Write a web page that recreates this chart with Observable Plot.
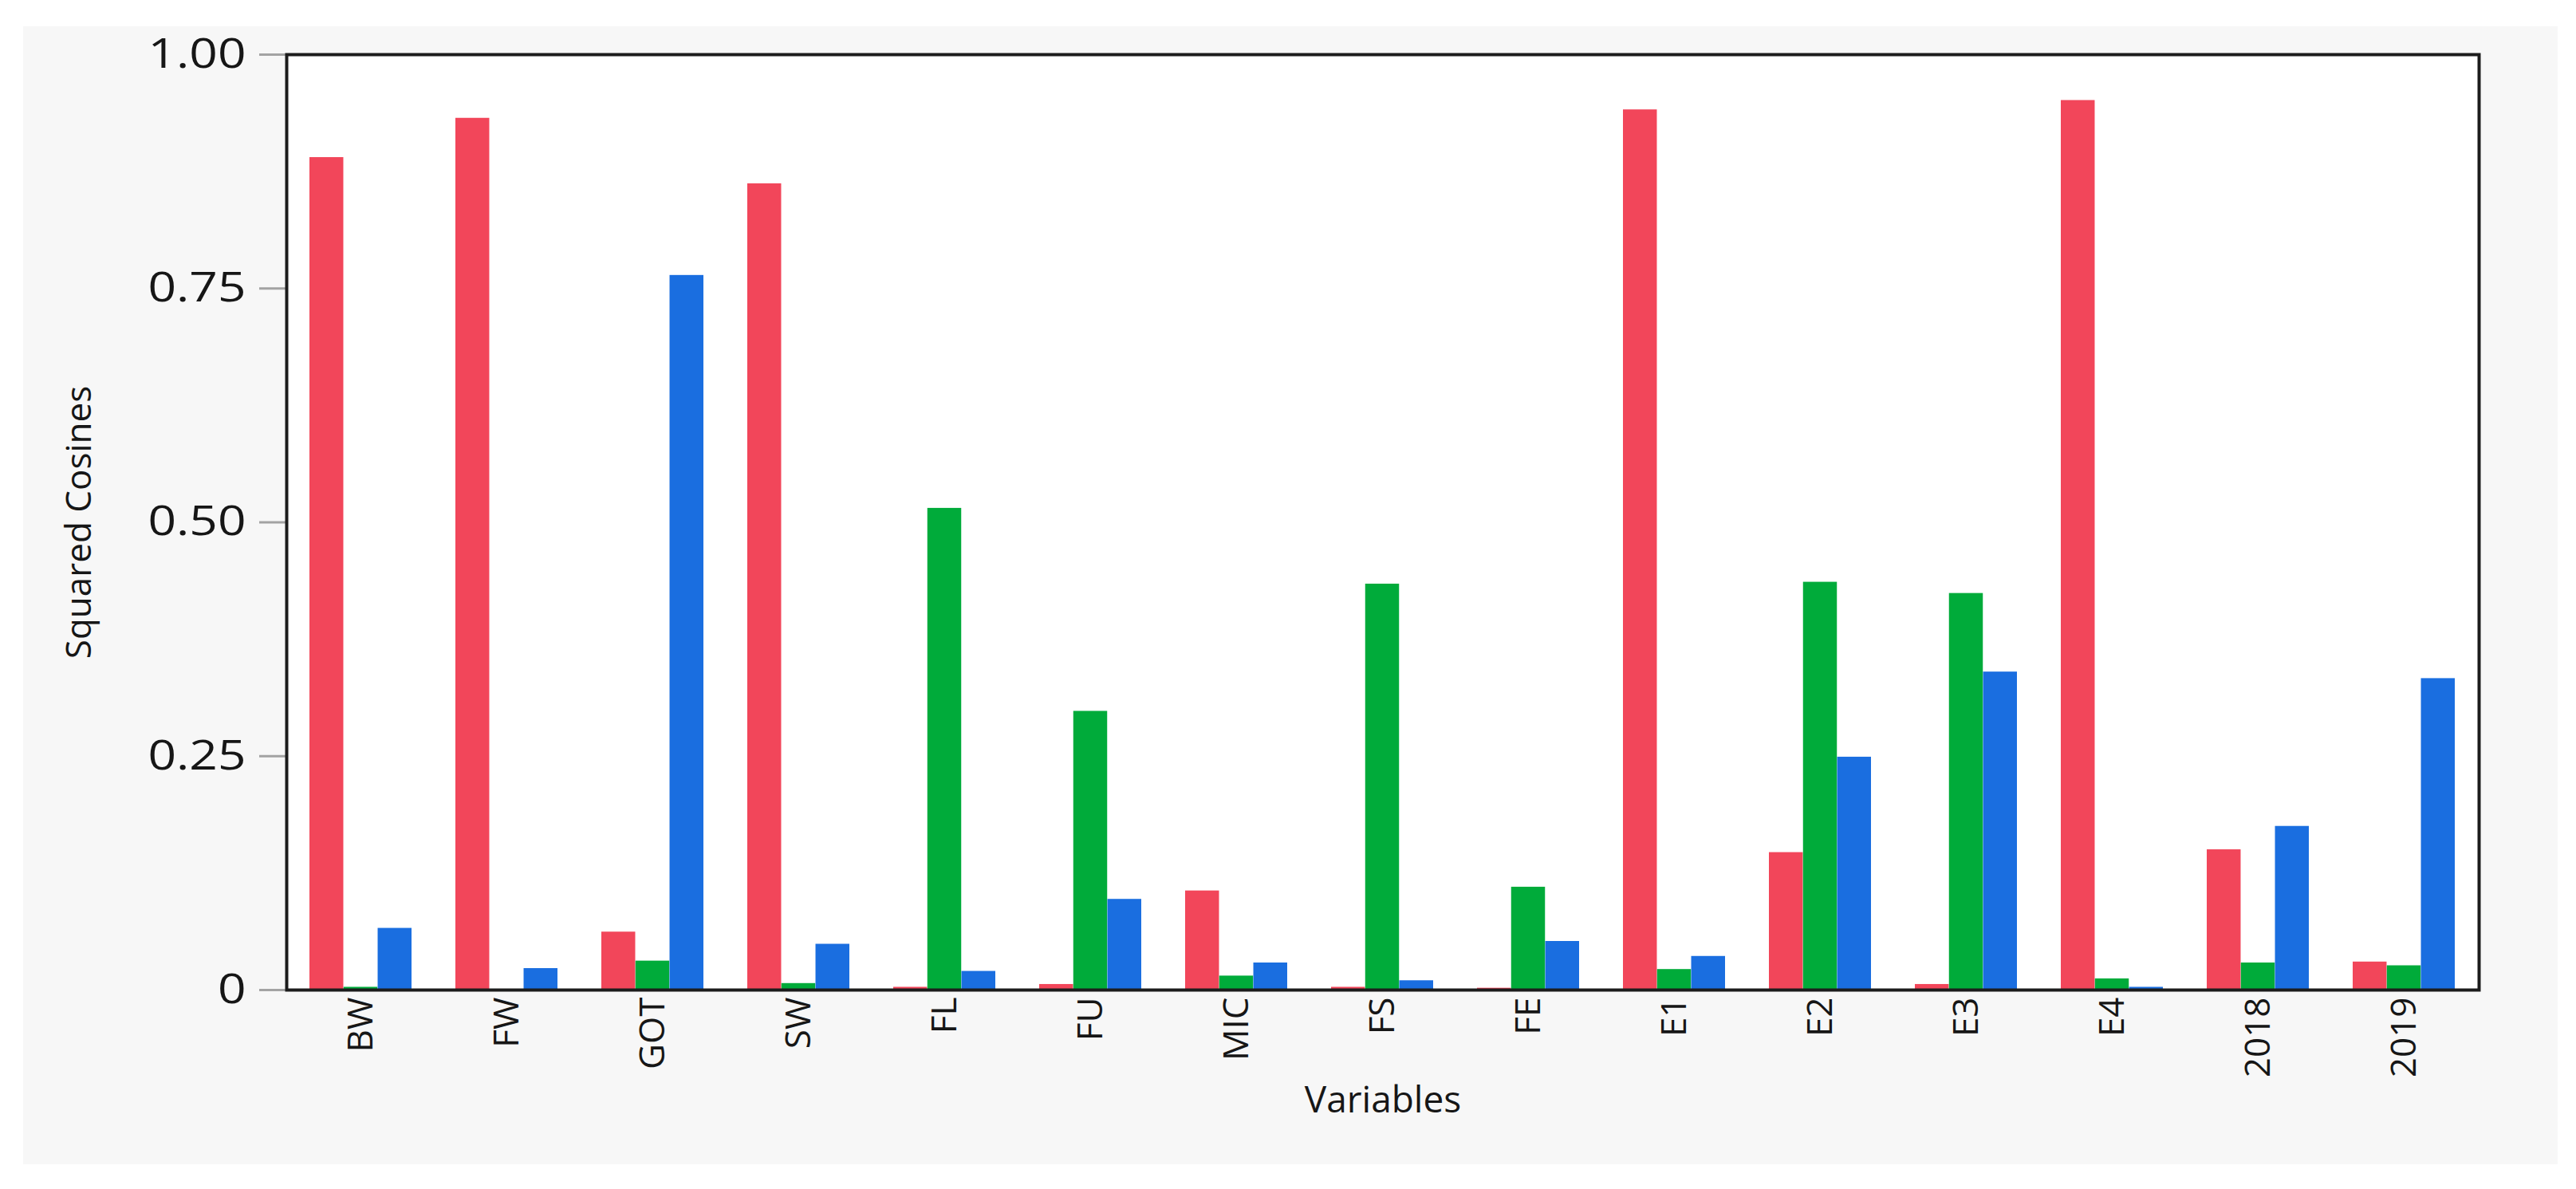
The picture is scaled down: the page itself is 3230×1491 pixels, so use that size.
<!DOCTYPE html>
<html><head><meta charset="utf-8">
<script src="https://cdn.jsdelivr.net/npm/d3@7"></script>
<script src="https://cdn.jsdelivr.net/npm/@observablehq/plot@0.6"></script>
<style>
html,body{margin:0;padding:0;background:#fff;}
#wrap{position:relative;width:3230px;height:1491px;overflow:hidden;}
#panel{position:absolute;left:29px;top:33px;width:3178px;height:1427px;background:#f7f7f7;}
#chart{position:absolute;left:0;top:0;}
</style></head><body>
<div id="wrap"><div id="panel"></div><div id="chart"></div></div>
<script>
const categories = ["BW","FW","GOT","SW","FL","FU","MIC","FS","FE","E1","E2","E3","E4","2018","2019"];
const seriesRed   = [0.890,0.932,0.062,0.862,0.003,0.006,0.106,0.003,0.002,0.941,0.147,0.006,0.951,0.150,0.030];
const seriesGreen = [0.003,0.000,0.031,0.007,0.515,0.298,0.015,0.434,0.110,0.022,0.436,0.424,0.012,0.029,0.026];
const seriesBlue  = [0.066,0.023,0.764,0.049,0.020,0.097,0.029,0.010,0.052,0.036,0.249,0.340,0.003,0.175,0.333];
const yTicks = [0, 0.25, 0.5, 0.75, 1];
const xTitle = "Variables";
const yTitle = "Squared Cosines";

const rows = categories.map((c, i) => ({category: c, red: seriesRed[i], green: seriesGreen[i], blue: seriesBlue[i]}));

const W = 3230, H = 1491, mL = 359, mR = 122, mT = 68, mB = 250;
const padIn = 0.3, padOut = 0.15;
const step = (W - mL - mR) / (categories.length - padIn + 2 * padOut);
const third = step * (1 - padIn) / 3;
const font = "'Open Sans', 'Noto Sans', sans-serif";
const ink = "#161616";

const chart = Plot.plot({
  width: W, height: H,
  marginLeft: mL, marginRight: mR, marginTop: mT, marginBottom: mB,
  style: {background: "transparent", fontFamily: font, fontSize: "44px", color: ink},
  x: {domain: categories, paddingInner: padIn, paddingOuter: padOut, label: null},
  y: {domain: [0, 1], label: null},
  marks: [
    Plot.frame({fill: "white"}),
    Plot.barY(rows, {x: "category", y: "red", fill: "#F2465A", insetRight: 2 * third}),
    Plot.barY(rows, {x: "category", y: "green", fill: "#00AB3A", insetLeft: third, insetRight: third}),
    Plot.barY(rows, {x: "category", y: "blue", fill: "#1A6EE0", insetLeft: 2 * third}),
    Plot.axisY({ticks: yTicks, tickFormat: d => d === 0 ? "0" : d.toFixed(2), tickSize: 34, tickPadding: 17,
      stroke: "#a3a3a3", strokeWidth: 3, fill: ink, fontSize: 51, label: null}),
    Plot.axisX({tickRotate: -90, tickSize: 0, tickPadding: 9, fontSize: 44, fill: ink, label: null}),
    Plot.text([xTitle], {text: d => d, frameAnchor: "bottom", dy: 139, lineAnchor: "middle", textAnchor: "middle",
      fontSize: 46, fill: ink, ariaLabel: "x-title"}),
    Plot.text([yTitle], {text: d => d, frameAnchor: "left", dx: -260, rotate: -90, lineAnchor: "middle", textAnchor: "middle",
      fontSize: 44, fill: ink, ariaLabel: "y-title"}),
    Plot.frame({stroke: "#1c1c1c", strokeWidth: 4})
  ]
});
document.getElementById("chart").appendChild(chart);

// the reference's horizontal text is widened; emulate with textLength
function widen(selector, factor) {
  d3.select(chart).selectAll(selector).each(function () {
    const len = this.getComputedTextLength();
    this.setAttribute("textLength", len * factor);
    this.setAttribute("lengthAdjust", "spacingAndGlyphs");
  });
}
widen('g[aria-label="y-axis tick label"] text', 1.22);
widen('g[aria-label="x-title"] text', 1.3);
</script>
</body></html>
